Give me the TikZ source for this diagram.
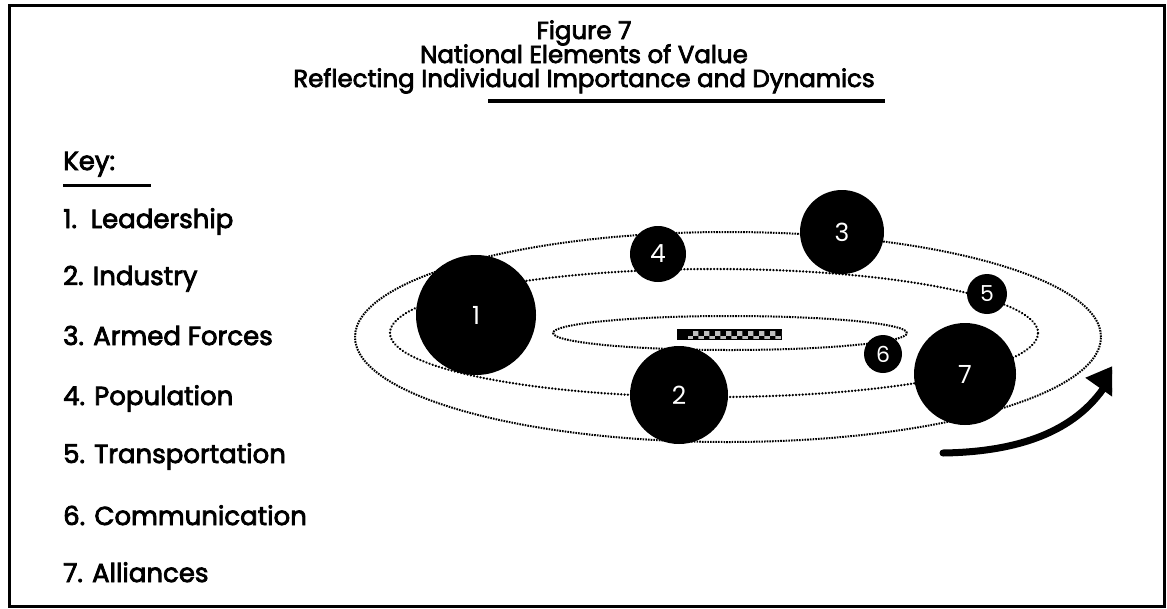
\documentclass[tikz,border=0pt]{standalone}
\usepackage{fontspec}
\setmainfont{Poppins}
\newfontfamily\medfont{Poppins}[FakeBold=3]
\usetikzlibrary{arrows.meta,patterns}
\begin{document}
\begin{tikzpicture}[x=1pt,y=-1pt,
  orbit/.style={line width=2pt, dash pattern=on 1.6pt off 1.1pt},
  innerorbit/.style={line width=2.5pt, line cap=round, dash pattern=on 0.1pt off 3.2pt},
  ball/.style={circle, fill=black, inner sep=0pt, text=white, font=\fontsize{25}{25}\selectfont},
  keytext/.style={anchor=base west, inner sep=0pt, font=\fontsize{26}{26}\medfont},
  titletext/.style={anchor=base, inner sep=0pt, font=\fontsize{24.5}{24.5}\medfont},
  rule/.style={line width=3.5pt}]
\useasboundingbox (0,0) rectangle (1167,608);
\fill[white] (0,0) rectangle (1167,608);
\draw[line width=3pt] (9,5) rectangle (1164,606);

% title
\node[titletext] (t1) at (584,39) {Figure 7};
\node[titletext] (t2) at (584,63) {National Elements of Value};
\node[titletext] (t3) at (584,87) {Reflecting Individual Importance and Dynamics};
\coordinate (u1) at (488,101);
\coordinate (u2) at (885,101);
\draw[rule] (u1) -- (u2);

% key
\node[keytext] (key) at (63,170) {Key:};
\coordinate (k1) at (63,185);
\coordinate (k2) at (151,185);
\draw[line width=3pt] (k1) -- (k2);
\node[keytext] (l1) at (63,228) {1.\ \ Leadership};
\node[keytext] (l2) at (63,285) {2. Industry};
\node[keytext] (l3) at (63,345) {3. Armed Forces};
\node[keytext] (l4) at (63,405) {4. Population};
\node[keytext] (l5) at (63,463) {5. Transportation};
\node[keytext] (l6) at (63,525) {6. Communication};
\node[keytext] (l7) at (63,582) {7. Alliances};

% orbits
\draw[orbit] (728,337) ellipse [x radius=373pt, y radius=105pt];
\draw[innerorbit] (714,333) ellipse [x radius=324pt, y radius=64pt];
\draw[orbit] (730,333) ellipse [x radius=177pt, y radius=17pt];

% centre bar
\fill[black] (677,329) rectangle (782,340);
\fill[pattern=checkerboard, pattern color=black!25] (688,331) rectangle (781,338);

% elements
\node[ball, minimum size=120pt] (e1) at (476,315) {1};
\node[ball, minimum size=98pt] (e2) at (679,395) {2};
\node[ball, minimum size=84pt] (e3) at (842,232) {3};
\node[ball, minimum size=56pt] (e4) at (658,254) {4};
\node[ball, minimum size=40pt, font=\fontsize{22}{22}\selectfont] (e5) at (987,294) {5};
\node[ball, minimum size=38pt, font=\fontsize{22}{22}\selectfont] (e6) at (883,354) {6};
\node[ball, minimum size=102pt] (e7) at (965,374) {7};

% rotation arrow
\coordinate (a1) at (943,453);
\coordinate (a2) at (1122,362);
\begin{scope}
\clip (0,0) rectangle (1112,608);
\draw[line width=7pt, line cap=round, -{Triangle[length=34pt,width=40pt]}] (a1) .. controls (1010,452) and (1070,436) .. (a2);
\end{scope}
\end{tikzpicture}
\end{document}
